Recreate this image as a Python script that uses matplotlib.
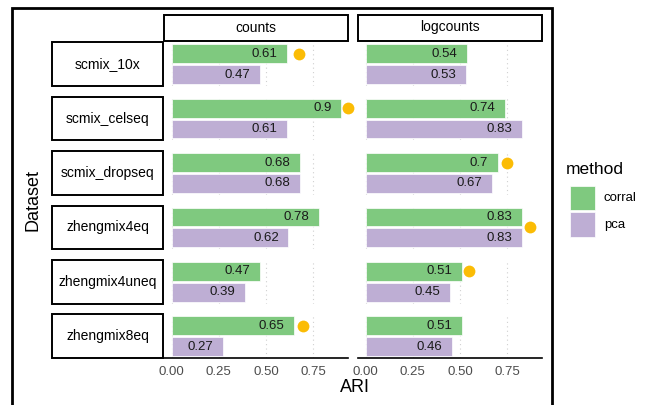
import matplotlib.pyplot as plt
from matplotlib.patches import Rectangle

plt.rcParams['font.family'] = ['Liberation Sans', 'DejaVu Sans']

# data
datasets = ['scmix_10x', 'scmix_celseq', 'scmix_dropseq', 'zhengmix4eq',
            'zhengmix4uneq', 'zhengmix8eq']
assays = ['counts', 'logcounts']
methods = ['corral', 'pca']
ari = {
    ('counts', 'corral'): [0.61, 0.9, 0.68, 0.78, 0.47, 0.65],
    ('counts', 'pca'): [0.47, 0.61, 0.68, 0.62, 0.39, 0.27],
    ('logcounts', 'corral'): [0.54, 0.74, 0.7, 0.83, 0.51, 0.51],
    ('logcounts', 'pca'): [0.53, 0.83, 0.67, 0.83, 0.45, 0.46],
}
# best result per dataset (marker)
best_assay = ['counts', 'counts', 'logcounts', 'logcounts', 'logcounts', 'counts']
best_method = ['corral', 'corral', 'corral', 'both', 'corral', 'corral']
best_x = [0.675, 0.937, 0.75, 0.872, 0.548, 0.699]
xticks = [0.0, 0.25, 0.5, 0.75]

colors = {'corral': '#7FC97F', 'pca': '#BEAED4'}
dot_color = '#FBBC05'

W, H = 654, 405
fig = plt.figure(figsize=(W / 100, H / 100), dpi=100)

def fx(x):
    return x / W

def fy(y):
    return 1 - y / H

col_x = [(164, 348), (358, 542)]
row_top0, row_h, row_step = 42.3, 43.7, 54.4
ypos = {'corral': 1, 'pca': 0}

# outer frame
fig.add_artist(Rectangle((fx(12), fy(430)), fx(552 - 12), (430 - 8) / H,
                         transform=fig.transFigure, fill=False,
                         edgecolor='black', lw=2, clip_on=False))

for i, ds in enumerate(datasets):
    top = row_top0 + i * row_step
    for j, assay in enumerate(assays):
        x0, x1 = col_x[j]
        ax = fig.add_axes([fx(x0), fy(top + row_h), fx(x1 - x0), row_h / H])
        ax.set_xlim(-0.041, 0.936)
        ax.set_ylim(-0.55, 1.55)
        for g in xticks:
            ax.axvline(g, color='#D0D0D0', lw=0.8, ls=(0, (1, 3)), zorder=0)
        for m in methods:
            v = ari[(assay, m)][i]
            ax.barh(ypos[m], v, height=0.9, color=colors[m],
                    edgecolor='white', lw=0.5, zorder=2)
            ax.annotate(f'{v:g}', (v, ypos[m]), xytext=(-7, 0),
                        textcoords='offset points', ha='right', va='center',
                        fontsize=9.5, color='#1A1A1A', zorder=3)
        if best_assay[i] == assay:
            yy = 0.5 if best_method[i] == 'both' else ypos[best_method[i]]
            ax.plot(best_x[i], yy, 'o', color=dot_color, ms=8.5,
                    mec='none', zorder=4, clip_on=False)
        for s in ['top', 'right', 'left', 'bottom']:
            ax.spines[s].set_visible(False)
        ax.set_yticks([])
        ax.set_xticks(xticks)
        ax.tick_params(axis='x', length=0, pad=6, labelsize=9.5,
                       labelcolor='#4D4D4D')
        if i == len(datasets) - 1:
            ax.spines['bottom'].set_visible(True)
            ax.spines['bottom'].set_linewidth(1.2)
            ax.set_xticklabels([f'{t:.2f}' for t in xticks])
        else:
            ax.set_xticklabels([])
        ax.patch.set_alpha(0)

    # row strip
    fig.add_artist(Rectangle((fx(52), fy(top + row_h)), fx(163 - 52), row_h / H,
                             transform=fig.transFigure, facecolor='white',
                             edgecolor='black', lw=1.4))
    fig.text(fx(107.5), fy(top + row_h / 2), ds, ha='center', va='center',
             fontsize=10)

# column strips
for j, assay in enumerate(assays):
    x0, x1 = col_x[j]
    fig.add_artist(Rectangle((fx(x0), fy(40.7)), fx(x1 - x0), (40.7 - 15) / H,
                             transform=fig.transFigure, facecolor='white',
                             edgecolor='black', lw=1.4))
    fig.text(fx((x0 + x1) / 2), fy(27.5), assay, ha='center', va='center',
             fontsize=10)

fig.text(fx(355), fy(388), 'ARI', ha='center', va='center', fontsize=13)
fig.text(fx(33), fy(200), 'Dataset', ha='center', va='center', fontsize=13,
         rotation=90)

# legend
fig.text(fx(566), fy(169), 'method', ha='left', va='center', fontsize=12.5)
for k, m in enumerate(methods):
    yt = 186 + k * 26.5
    fig.add_artist(Rectangle((fx(570), fy(yt + 24.5)), fx(25), 24.5 / H,
                             transform=fig.transFigure, facecolor=colors[m],
                             edgecolor='white', lw=0.5))
    fig.text(fx(604), fy(yt + 12), m, ha='left', va='center', fontsize=9.5)

fig.savefig('out.png', dpi=100)
